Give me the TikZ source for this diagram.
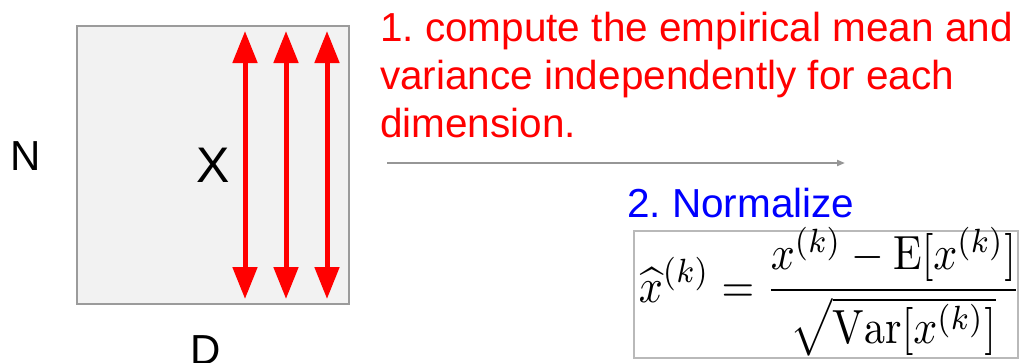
\documentclass[tikz,border=0pt]{standalone}
\usepackage{amsmath}
\usepackage{fontspec}
\newfontfamily\arialfont{Liberation Sans}
\usetikzlibrary{arrows.meta}
\definecolor{boxfill}{RGB}{242,242,242}
\definecolor{boxline}{RGB}{155,155,155}
\definecolor{formline}{RGB}{185,185,185}
\definecolor{flowgray}{RGB}{150,150,150}
\frenchspacing

\begin{document}
\begin{tikzpicture}[x=1pt,y=-1pt,>={Triangle[length=32pt,width=24pt]},
    font=\arialfont\fontsize{40.5}{48}\selectfont]
    \useasboundingbox (0,0) rectangle (1020,362);
    % data matrix X
    \node[draw=boxline,line width=2pt,fill=boxfill,minimum width=272pt,minimum height=278pt,
          inner sep=0,anchor=north west] (xmat) at (76,25) {};
    \node[anchor=base west,inner sep=0,font=\arialfont\fontsize{50}{60}\selectfont] (xlab) at (196,182) {X};
    \node[anchor=base west,inner sep=0,font=\arialfont\fontsize{42}{50}\selectfont] (nlab) at (10,170) {N};
    \node[anchor=base west,inner sep=0,font=\arialfont\fontsize{42}{50}\selectfont] (dlab) at (190,364) {D};
    \foreach \c [count=\i] in {245,286,327} {
      \coordinate (top\i) at (\c,31);
      \coordinate (bot\i) at (\c,299);
      \draw[<->,red,line width=5pt] (top\i) -- (bot\i);
    }
    % the two steps
    \node[text=red,align=left,anchor=north west,inner sep=0] (step1) at (380,12)
      {1. compute the empirical mean and\\variance independently for each\\dimension.};
    \coordinate (flowS) at (387,163);
    \coordinate (flowE) at (845,163);
    \draw[-{Triangle[length=8pt,width=6pt]},flowgray,line width=2pt] (flowS) -- (flowE);
    \node[text=blue,anchor=base west,inner sep=0] (step2) at (627,217) {2. Normalize};
    \node[draw=formline,line width=2pt,minimum width=384pt,minimum height=127pt,
          inner sep=0,anchor=north west] (fbox) at (633,230) {};
    \node[xscale=4.2,yscale=4.8,font=\normalsize] (formula) at (830,292)
      {$\displaystyle\widehat{x}^{(k)} = \frac{x^{(k)} - \mathrm{E}[x^{(k)}]}{\sqrt{\mathrm{Var}[x^{(k)}]}}$};
\end{tikzpicture}
\end{document}
